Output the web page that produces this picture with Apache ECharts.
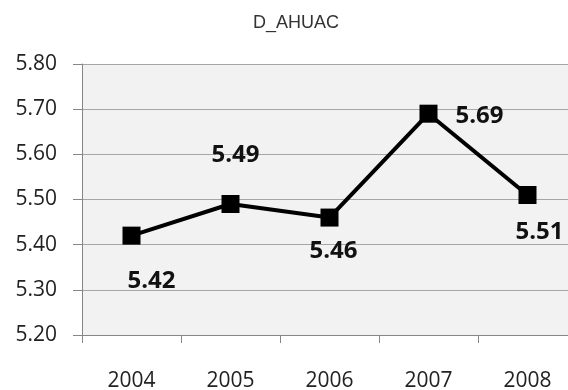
<!DOCTYPE html>
<html>
<head>
<meta charset="utf-8">
<script src="https://cdn.jsdelivr.net/npm/echarts@6/dist/echarts.min.js"></script>
<style>
  html, body { margin: 0; padding: 0; background: #fff; }
  #chart { width: 568px; height: 390px; }
</style>
</head>
<body>
<div id="chart"></div>
<script>
// data
const years = ['2004', '2005', '2006', '2007', '2008']
const values = [5.42, 5.49, 5.46, 5.69, 5.51]

// where each value label sits relative to its marker
const labelOffsets = [[20, 46], [5, -49], [4, 34], [51, 2], [12, 37]]

const myChart = echarts.init(document.getElementById('chart'))

const option = {
  backgroundColor: '#ffffff',
  animation: false,
  title: {
    text: 'D_AHUAC',
    left: 248,
    top: 9,
    textStyle: {
      fontFamily: 'Liberation Sans',
      fontSize: 18,
      fontWeight: 'normal',
      color: '#333'
    }
  },
  grid: {
    left: 82,
    width: 495,
    top: 64,
    bottom: 55,
    outerBoundsMode: 'none',
    containLabel: false,
    show: true,
    backgroundColor: '#f2f2f2',
    borderWidth: 0
  },
  xAxis: {
    type: 'category',
    data: years,
    axisLine: { lineStyle: { color: '#868686', width: 1 } },
    axisTick: { show: true, length: 8, lineStyle: { color: '#868686' } },
    axisLabel: {
      margin: 36,
      fontFamily: 'Open Sans',
      fontSize: 21,
      color: '#222'
    }
  },
  yAxis: {
    type: 'value',
    min: 5.2,
    max: 5.8,
    interval: 0.1,
    axisLine: { show: true, lineStyle: { color: '#868686', width: 1 } },
    axisTick: { show: true, length: 9, lineStyle: { color: '#868686' } },
    splitLine: { lineStyle: { color: '#a6a6a6', width: 1 } },
    axisLabel: {
      margin: 25,
      fontFamily: 'Open Sans',
      fontSize: 21,
      color: '#222',
      formatter: v => v.toFixed(2)
    }
  },
  series: [{
    type: 'line',
    data: values.map((v, i) => ({
      value: v,
      label: { offset: labelOffsets[i] }
    })),
    symbol: 'rect',
    symbolSize: 18,
    lineStyle: { color: '#000', width: 4 },
    itemStyle: { color: '#000' },
    label: {
      show: true,
      position: 'inside',
      fontFamily: 'Open Sans',
      fontWeight: 'bold',
      fontSize: 24,
      color: '#111',
      formatter: p => p.value.toFixed(2)
    }
  }]
}

myChart.setOption(option)
</script>
</body>
</html>
